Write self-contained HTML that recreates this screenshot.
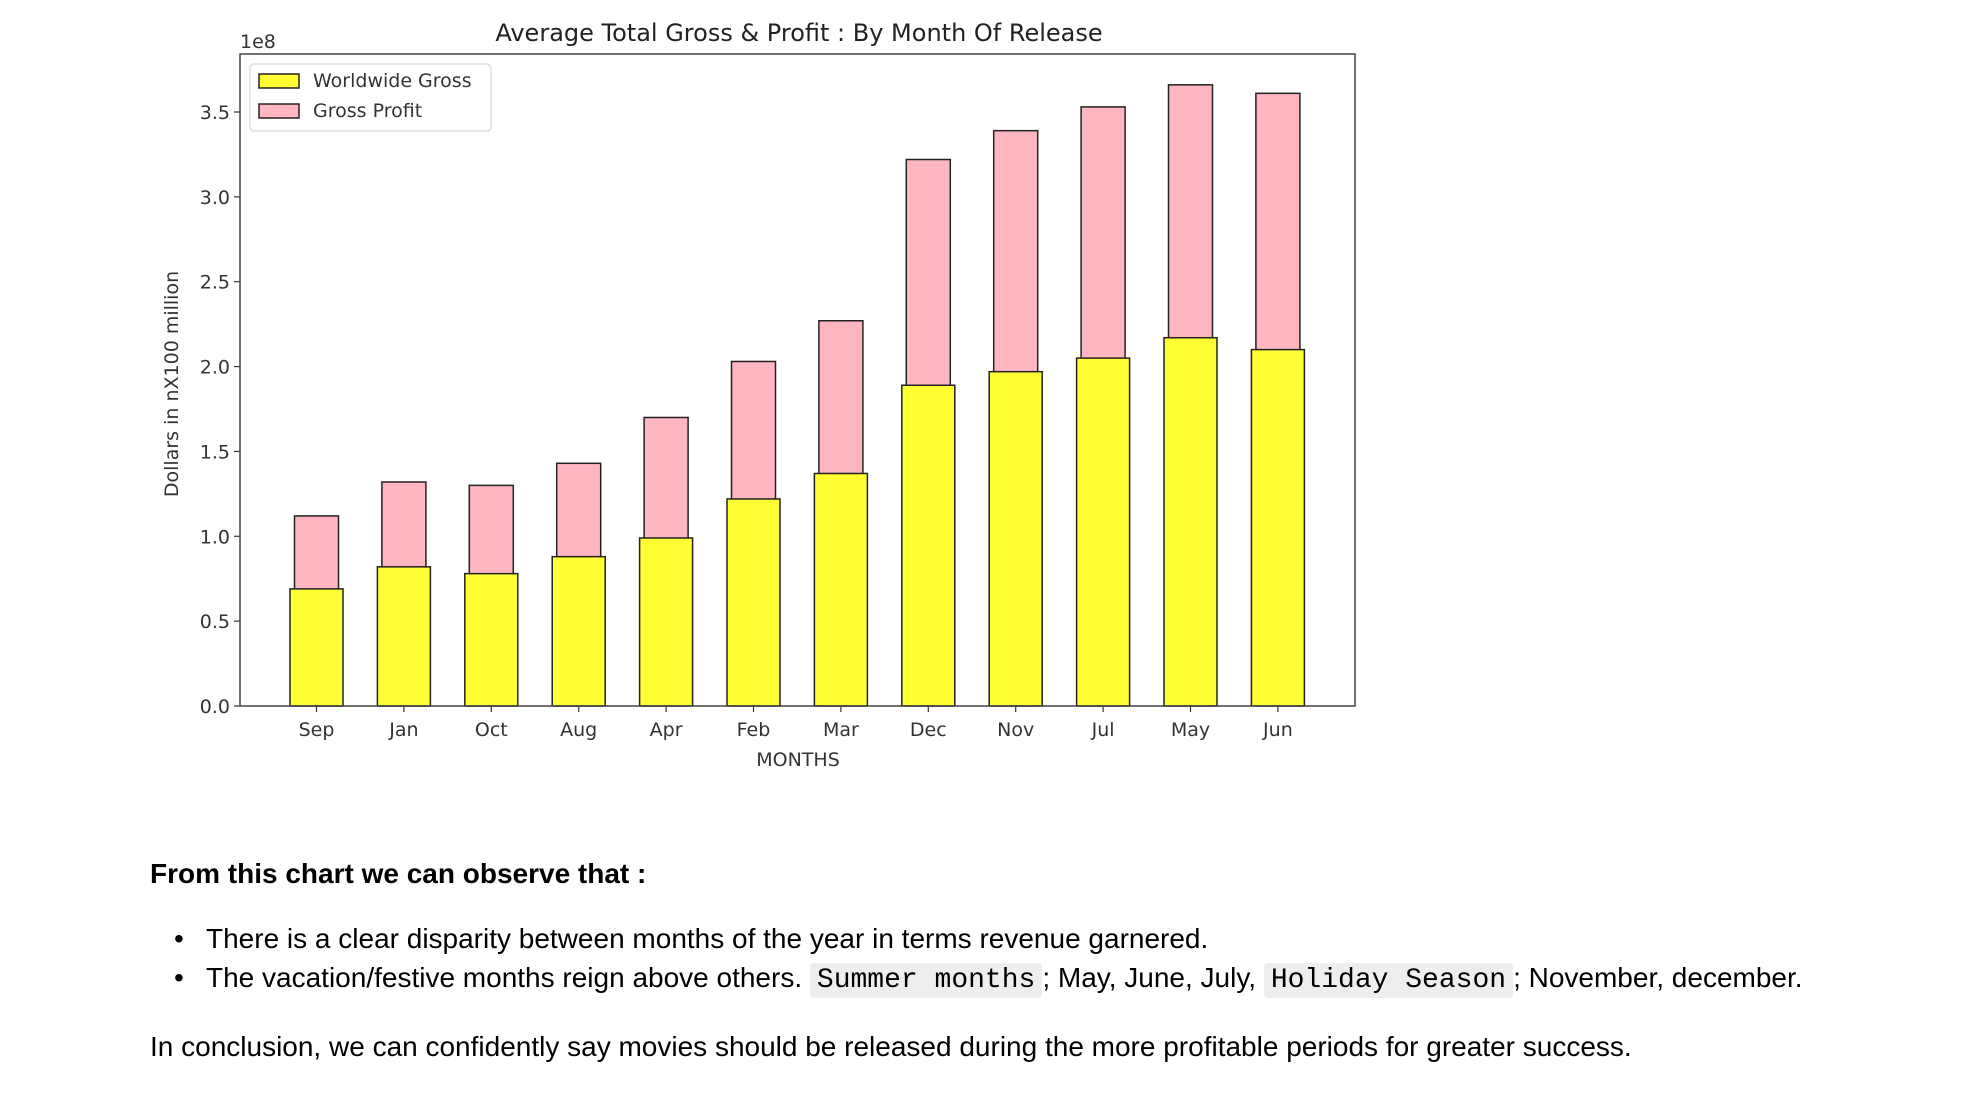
<!DOCTYPE html>
<html><head><meta charset="utf-8"><style>
body{margin:0;background:#fff;width:1970px;height:1094px;overflow:hidden;font-family:"Liberation Sans",sans-serif;color:#000}
svg{position:absolute;left:0;top:0}
.t{position:absolute;left:150px;font-size:28px;white-space:nowrap}
.b{position:absolute;left:174px;font-size:28px}
code{font-family:"Liberation Mono",monospace;background:#eee;padding:2px 7px;border-radius:4px;font-size:28px}
</style></head><body>
<svg id="chart" width="1970" height="800" font-family="DejaVu Sans, sans-serif"></svg>
<div class="t" style="top:858px;font-weight:bold">From this chart we can observe that :</div>
<div class="b" style="top:923px">•</div>
<div class="t" style="top:923px;left:206px">There is a clear disparity between months of the year in terms revenue garnered.</div>
<div class="b" style="top:962px">•</div>
<div class="t" style="top:962px;left:206px">The vacation/festive months reign above others. <code>Summer months</code>; May, June, July, <code>Holiday Season</code>; November, december.</div>
<div class="t" style="top:1031px">In conclusion, we can confidently say movies should be released during the more profitable periods for greater success.</div>
<script>
const months=["Sep","Jan","Oct","Aug","Apr","Feb","Mar","Dec","Nov","Jul","May","Jun"];
const grossValues=[0.69,0.82,0.78,0.88,0.99,1.22,1.37,1.89,1.97,2.05,2.17,2.10];
const profitValues=[1.12,1.32,1.30,1.43,1.70,2.03,2.27,3.22,3.39,3.53,3.66,3.61];
const yTicks=[0,0.5,1.0,1.5,2.0,2.5,3.0,3.5];
const svg=document.getElementById('chart');
const NS='http://www.w3.org/2000/svg';
const L=240,R=1355,T=54,B=706;
const y=v=>B-v*(B-112)/3.5;
const step=87.4, x0=316.5;
const x=i=>x0+i*step;
function mk(tag,attrs,txt){const e=document.createElementNS(NS,tag);for(const k in attrs)e.setAttribute(k,attrs[k]);if(txt!==undefined)e.textContent=txt;svg.appendChild(e);return e;}
let e;
months.forEach((m,i)=>{
 e=mk('rect',{x:x(i)-22,y:y(profitValues[i]),width:44,height:B-y(profitValues[i]),fill:'#ffb6c1',stroke:'#222','stroke-width':1.5});
 
 
});
months.forEach((m,i)=>{
 e=mk('rect',{x:x(i)-26.5,y:y(grossValues[i]),width:53,height:B-y(grossValues[i]),fill:'#ffff33',stroke:'#222','stroke-width':1.5});
 
 
 e=mk('line',{x1:x(i),x2:x(i),y1:B,y2:B+6,stroke:'#333','stroke-width':1.2});
 e=mk('text',{x:x(i),y:B+30,'text-anchor':'middle','font-size':19,fill:'#333'},m);
 
 
});
yTicks.forEach(v=>{
 mk('line',{x1:L-6,x2:L,y1:y(v),y2:y(v),stroke:'#333','stroke-width':1.2});
 e=mk('text',{x:L-10,y:y(v)+7,'text-anchor':'end','font-size':19,fill:'#333'},v.toFixed(1));
 
 
});
e=mk('rect',{x:L,y:T,width:R-L,height:B-T,fill:'none',stroke:'#444','stroke-width':1.5});


e=mk('text',{x:240,y:48,'font-size':19,fill:'#333'},'1e8');


e=mk('text',{x:799,y:41,'text-anchor':'middle','font-size':24,fill:'#222'},'Average Total Gross & Profit : By Month Of Release');


e=mk('text',{x:798,y:766,'text-anchor':'middle','font-size':19,fill:'#333'},'MONTHS');


e=mk('text',{x:0,y:0,'text-anchor':'middle','font-size':19,fill:'#333',transform:'translate(178,384) rotate(-90)'},'Dollars in nX100 million');


e=mk('rect',{x:250,y:64,width:241,height:67,rx:4,fill:'#fff',stroke:'#ddd','stroke-width':1.5});


mk('rect',{x:259,y:74,width:40,height:14,fill:'#ffff33',stroke:'#222','stroke-width':1.5});
e=mk('text',{x:313,y:87,'font-size':19,fill:'#333'},'Worldwide Gross');


mk('rect',{x:259,y:104,width:40,height:14,fill:'#ffb6c1',stroke:'#222','stroke-width':1.5});
e=mk('text',{x:313,y:117,'font-size':19,fill:'#333'},'Gross Profit');


</script>
</body></html>
